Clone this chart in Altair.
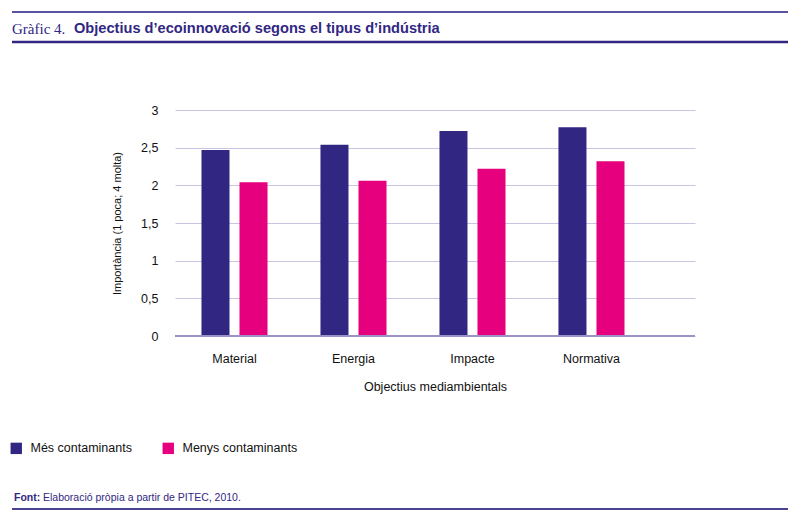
import altair as alt
import pandas as pd

categories = ["Material", "Energia", "Impacte", "Normativa"]
series = ["Més contaminants", "Menys contaminants"]
mes = [2.47, 2.54, 2.72, 2.77]
menys = [2.04, 2.06, 2.22, 2.32]
y_ticks = [0, 0.5, 1, 1.5, 2, 2.5, 3]

NAVY = "#312783"
PINK = "#e6007e"
FONT = "Liberation Sans"

df = pd.DataFrame({
    "objectiu": categories * 2,
    "grup": [series[0]] * 4 + [series[1]] * 4,
    "valor": mes + menys,
})
one = pd.DataFrame({"a": [0]})

y_axis = alt.Axis(title="Importància (1 poca; 4 molta)", values=y_ticks,
                  labelExpr="replace(format(datum.value, '~g'), '.', ',')",
                  domain=False, ticks=False, labelPadding=17, titlePadding=18,
                  gridColor="#c9c4e2", gridWidth=1, labelFontSize=12.5,
                  titleFontSize=11, labelFont=FONT, titleFont=FONT,
                  titleFontWeight="normal", labelColor="#111", titleColor="#111")
y_scale = alt.Scale(domain=[0, 3], nice=False)

bars = alt.Chart(df).mark_bar().encode(
    x=alt.X("objectiu:N", sort=categories,
            scale=alt.Scale(paddingInner=0.445, paddingOuter=0.4075, align=0.273),
            axis=alt.Axis(title="Objectius mediambientals", labelAngle=0, domain=False,
                          ticks=False, labelPadding=16, titlePadding=16,
                          labelFontSize=12.5, titleFontSize=12.5, labelFont=FONT,
                          titleFont=FONT, titleFontWeight="normal",
                          labelColor="#111", titleColor="#111")),
    xOffset=alt.XOffset("grup:N", sort=series,
                        scale=alt.Scale(paddingInner=0.263, paddingOuter=0)),
    y=alt.Y("valor:Q", scale=y_scale, axis=y_axis),
    color=alt.Color("grup:N", sort=series,
                    scale=alt.Scale(domain=series, range=[NAVY, PINK]),
                    legend=alt.Legend(title=None, orient="none", legendX=-165, legendY=332,
                                      direction="horizontal", symbolType="square",
                                      symbolSize=130, symbolStrokeWidth=0, labelFontSize=12.5,
                                      labelFont=FONT, labelColor="#111", columnPadding=30,
                                      labelOffset=8)),
)

baseline = alt.Chart(one).mark_rule(color="#9b93c8", strokeWidth=2).encode(
    y=alt.Y(datum=0, scale=y_scale, axis=y_axis))

def hline(y, color, width):
    return alt.Chart(one).mark_rule(color=color, strokeWidth=width).encode(
        x=alt.value(-163), x2=alt.value(613), y=alt.value(y))

def label(x, y, text, size, weight="normal", font=FONT):
    return alt.Chart(one).mark_text(text=text, align="left", baseline="middle",
                                    fontSize=size, fontWeight=weight, font=font,
                                    color=NAVY).encode(x=alt.value(x), y=alt.value(y))

decor = (
    hline(-98, "#5a54a0", 2)
    + hline(-68, NAVY, 2.5)
    + hline(399, "#4a4394", 2)
    + label(-163, -81, "Gràfic 4.", 15, font="Liberation Serif")
    + label(-101, -81, "Objectius d’ecoinnovació segons el tipus d’indústria", 14.6, "bold")
    + label(-161, 388, "Font:", 10.5, "bold")
    + label(-132, 388, "Elaboració pròpia a partir de PITEC, 2010.", 10.5)
)

chart = (bars + baseline + decor).properties(
    width=520, height=226,
    autosize=alt.AutoSizeParams(type="none"),
    padding={"left": 167, "top": 102, "right": 97, "bottom": 176},
).configure_view(stroke=None)

chart.save("out.html", embed_options={"renderer": "svg", "actions": False})
